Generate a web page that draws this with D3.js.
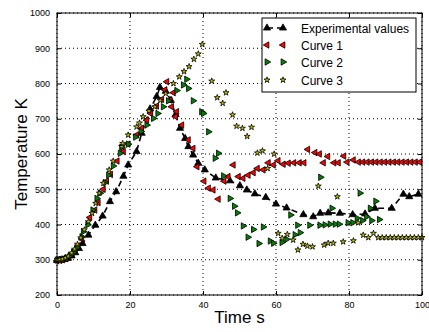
<!DOCTYPE html>
<html>
<head>
<meta charset="utf-8">
<script src="https://cdn.jsdelivr.net/npm/d3@7"></script>
<style>
  body { margin: 0; background: #fff; }
  svg { display: block; font-family: "Liberation Sans", Arial, sans-serif; }
</style>
</head>
<body>
<div id="chart"></div>
<script>
// data: [time s, temperature K]
const experimental = [
  [0, 298], [1, 299], [2, 301], [3, 304], [4, 311], [5, 320], [6, 332], [7, 346],
  [8.6, 370], [10.5, 398], [12.5, 424], [14.5, 465], [16.2, 493], [18.2, 537],
  [19.5, 569], [21.8, 607], [23.2, 659], [25.5, 728], [27.3, 763], [28.2, 789],
  [29.8, 778], [31.2, 752], [32.5, 712], [33.7, 673], [35.1, 644], [36, 621],
  [37.3, 597], [38.7, 574], [40.5, 555], [43.5, 532], [47.4, 524], [50.1, 510],
  [52, 498], [54.2, 487], [57.2, 477], [60, 458], [62.9, 447], [67.5, 428],
  [70.2, 422], [72.1, 432], [74.3, 433], [77.5, 432], [81, 428], [84.4, 430],
  [87.1, 446], [91.7, 446], [94.9, 486], [96.5, 479], [99, 486]
];

const curve1 = [
  [0, 297], [0.8, 298], [1.6, 300], [2.5, 303], [3.3, 309], [4.2, 318], [5, 327],
  [5.8, 339], [6.8, 359], [9, 420], [10.4, 441], [11.3, 462], [12.7, 500],
  [13.6, 523], [14.7, 542], [16.5, 580], [18.2, 607], [19.5, 628], [21.8, 654],
  [23.2, 673], [24.6, 696], [25.7, 715], [27.3, 736], [28.7, 755], [29.6, 782],
  [30.1, 805], [31.9, 774], [31, 753], [31.4, 734], [32.8, 720], [32.5, 706],
  [34.2, 682], [36, 640], [37.3, 616], [38.4, 564], [40.3, 523], [41.5, 503],
  [42.8, 498], [44.2, 472], [45.8, 523], [46.9, 536], [48.3, 569], [49.7, 536],
  [51, 531], [52.4, 540], [53.8, 547], [54.9, 559], [56.5, 555], [57.9, 575],
  [59.3, 569], [60.6, 581], [62, 571], [63.4, 574], [64.9, 575], [66.4, 575],
  [67.7, 575], [68.7, 613], [70.7, 604], [71.9, 600], [73, 575], [74.2, 593],
  [75.9, 575], [77.1, 575], [78.6, 594], [79.5, 577], [81.2, 583], [82.6, 577],
  [83.8, 577], [85, 577], [86.2, 577], [87.4, 577], [88.6, 577], [89.8, 577],
  [91, 577], [92.2, 577], [93.4, 577], [94.6, 577], [95.8, 577], [97, 577],
  [98.2, 577], [99.4, 577]
];

const curve2 = [
  [0, 299], [0.9, 300], [1.8, 302], [2.7, 306], [3.6, 312], [4.5, 321], [5.4, 334],
  [6.8, 365], [7.2, 380], [8.4, 399], [9.8, 441], [10.9, 474], [11.8, 489],
  [13.2, 519], [14.1, 540], [15.4, 566], [17.3, 602], [17.7, 619], [19.5, 628],
  [21.5, 648], [23, 664], [24.6, 682], [26.4, 701], [27.6, 715], [29.1, 734],
  [30.5, 751], [32.8, 780], [34.6, 796], [35.5, 812], [36, 786], [37.3, 751],
  [39.6, 720], [40.1, 715], [41.5, 663], [43.3, 588], [44.2, 602], [45.6, 538],
  [47.4, 474], [48.6, 452], [49.4, 433], [51, 396], [52.3, 364], [53.8, 386],
  [55.3, 346], [56.5, 393], [58.4, 353], [59.3, 347], [61.6, 349], [62.9, 358],
  [64, 427], [65.2, 371], [65.9, 398], [66.6, 377], [69.2, 398], [72, 398],
  [72.2, 534], [73.4, 399], [74.8, 401], [75.3, 446], [76.2, 401], [77.3, 401],
  [79.7, 405], [81, 405], [82.2, 418], [83, 489], [83.7, 411], [84.8, 422],
  [85.8, 446], [86.2, 411], [87.3, 466], [88.3, 414]
];

const curve3 = [
  [0, 300], [0.7, 301], [1.5, 302], [2.3, 305], [3.1, 310], [4, 319], [4.8, 330],
  [5.6, 344], [6.5, 362], [7.5, 385], [8.6, 408], [9.6, 432], [10.6, 460],
  [11.6, 489], [12.7, 517], [14.3, 555], [15.4, 580], [17.7, 621], [18, 630],
  [19.5, 654], [21.8, 677], [22.6, 688], [23.6, 706], [25.2, 722], [26.8, 734],
  [28.3, 752], [29.8, 772], [31.9, 800], [33.5, 819], [34.8, 834], [36.2, 848],
  [37.5, 869], [38.7, 884], [39.8, 911], [42.4, 807], [43.9, 760], [45.4, 744],
  [46.3, 774], [48.1, 711], [49.2, 679], [50.8, 673], [52.1, 650], [53.3, 676],
  [54.9, 603], [56.3, 609], [57.7, 559], [59.5, 600], [60.6, 375], [61.7, 361],
  [63.1, 372], [64.7, 356], [66, 328], [67.4, 344], [68.6, 339], [70, 337],
  [71.6, 509], [73.2, 342], [74.3, 347], [75.7, 347], [76.8, 479], [78.4, 351],
  [81.2, 354], [82.5, 405], [83.9, 370], [85.3, 363], [86.7, 375], [88, 363],
  [89.1, 363], [90.2, 363], [91.3, 363], [92.4, 363], [93.5, 363], [94.6, 363],
  [95.7, 363], [96.8, 363], [97.9, 363], [99, 363], [100, 363]
];

const xTicks = [0, 20, 40, 60, 80, 100];
const yTicks = [200, 300, 400, 500, 600, 700, 800, 900, 1000];
const legendNames = ['Experimental values', 'Curve 1', 'Curve 2', 'Curve 3'];

const W = 429, H = 332;
const margin = { top: 13, right: 7, bottom: 37, left: 57 };
const width = W - margin.left - margin.right;
const height = H - margin.top - margin.bottom;

const x = d3.scaleLinear().domain([0, 100]).range([0, width]);
const y = d3.scaleLinear().domain([200, 1000]).range([height, 0]);

const svg = d3.select('#chart').append('svg')
  .attr('width', W).attr('height', H);
const g = svg.append('g')
  .attr('transform', `translate(${margin.left},${margin.top})`);

// grid
g.append('g').selectAll('line').data(xTicks).enter().append('line')
  .attr('x1', d => x(d)).attr('x2', d => x(d))
  .attr('y1', 0).attr('y2', height)
  .attr('stroke', '#000').attr('stroke-width', 1).attr('stroke-dasharray', '1,3');
g.append('g').selectAll('line').data(yTicks).enter().append('line')
  .attr('y1', d => y(d)).attr('y2', d => y(d))
  .attr('x1', 0).attr('x2', width)
  .attr('stroke', '#000').attr('stroke-width', 1).attr('stroke-dasharray', '1,3');

// axes, ticks pointing inwards
const fmt = d3.format('d');
g.append('g').attr('transform', `translate(0,${height})`)
  .call(d3.axisBottom(x).tickValues(xTicks).tickFormat(fmt).tickSizeInner(-4).tickSizeOuter(0).tickPadding(7));
g.append('g')
  .call(d3.axisLeft(y).tickValues(yTicks).tickFormat(fmt).tickSizeInner(-4).tickSizeOuter(0).tickPadding(7));
g.append('g')
  .call(d3.axisTop(x).tickValues(xTicks).tickSizeInner(-4).tickSizeOuter(0).tickFormat(''));
g.append('g').attr('transform', `translate(${width},0)`)
  .call(d3.axisRight(y).tickValues(yTicks).tickSizeInner(-4).tickSizeOuter(0).tickFormat(''));
g.selectAll('.domain').remove();
g.selectAll('.tick text').style('font-size', '9px').attr('fill', '#000');

const plot = g.append('g');

// experimental dashed line
const line = d3.line().x(d => x(d[0])).y(d => y(d[1]));
plot.append('path').datum(experimental)
  .attr('d', line).attr('fill', 'none')
  .attr('stroke', '#000').attr('stroke-width', 1.6).attr('stroke-dasharray', '6,4');

const tri = d3.symbol().type(d3.symbolTriangle).size(18);
const triExp = d3.symbol().type(d3.symbolTriangle).size(22);
const star = d3.symbol().type(d3.symbolStar).size(11);

const series = [
  { data: experimental, path: triExp(), rot: 0, fill: '#000' },
  { data: curve1, path: tri(), rot: -90, fill: '#ff0000' },
  { data: curve2, path: tri(), rot: 90, fill: '#008000' },
  { data: curve3, path: star(), rot: 0, fill: '#bfbf00' }
];

series.forEach(s => {
  plot.append('g').selectAll('path').data(s.data).enter().append('path')
    .attr('d', s.path)
    .attr('transform', d => `translate(${x(d[0])},${y(d[1])}) rotate(${s.rot})`)
    .attr('fill', s.fill)
    .attr('stroke', '#000').attr('stroke-width', 0.8);
});

// frame
g.append('rect').attr('width', width).attr('height', height)
  .attr('fill', 'none').attr('stroke', '#000').attr('stroke-width', 1);

// legend
const lg = svg.append('g').attr('transform', 'translate(262,18)');
lg.append('rect').attr('width', 154).attr('height', 74)
  .attr('fill', '#fff').attr('stroke', '#000').attr('stroke-width', 1);
const rowY = [10, 27, 44, 62];
legendNames.forEach((name, i) => {
  const s = series[i];
  const row = lg.append('g').attr('transform', `translate(0,${rowY[i]})`);
  if (i === 0) {
    row.append('line').attr('x1', 5).attr('x2', 21).attr('y1', 0).attr('y2', 0)
      .attr('stroke', '#000').attr('stroke-width', 1.6).attr('stroke-dasharray', '6,4');
  }
  [5, 21].forEach(mx => {
    row.append('path').attr('d', s.path)
      .attr('transform', `translate(${mx},0) rotate(${s.rot})`)
      .attr('fill', s.fill).attr('stroke', '#000').attr('stroke-width', 0.8);
  });
  row.append('text').attr('x', 39).attr('y', 4.5)
    .style('font-size', '12px').text(name);
});

// axis titles
svg.append('text')
  .attr('x', margin.left + width / 2).attr('y', 323)
  .attr('text-anchor', 'middle').style('font-size', '17px')
  .text('Time s');
svg.append('text')
  .attr('transform', `translate(27,${margin.top + height / 2}) rotate(-90)`)
  .attr('text-anchor', 'middle').style('font-size', '17px')
  .text('Temperature K');
</script>
</body>
</html>
